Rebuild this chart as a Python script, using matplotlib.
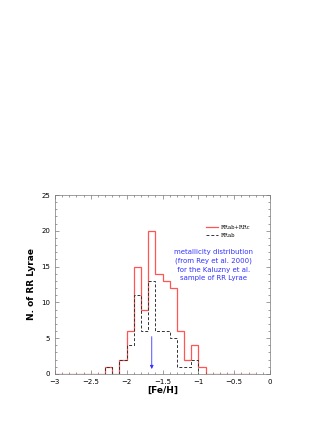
import numpy as np
import matplotlib
matplotlib.use("Agg")
import matplotlib.pyplot as plt
from matplotlib.ticker import MultipleLocator

bin_edges = np.round(np.arange(-3.0, -0.2 + 1e-9, 0.1), 2)
# counts per 0.1 dex bin from -3.0 to -0.2
all_counts = [0, 0, 0, 0, 0, 0, 0, 1, 0, 2, 6, 15, 9, 20, 14, 13, 12, 6, 2, 4, 1, 0, 0, 0, 0, 0, 0, 0]
rrab_counts = [0, 0, 0, 0, 0, 0, 0, 1, 0, 2, 4, 11, 6, 13, 6, 6, 5, 1, 1, 2, 0, 0, 0, 0, 0, 0, 0, 0]
mean_feh = -1.65
xtick_vals = [-3, -2.5, -2, -1.5, -1, -0.5, 0]
xtick_labels = ["\u22123", "\u22122.5", "\u22122", "\u22121.5", "\u22121", "\u22120.5", "0"]

fig = plt.figure(figsize=(3.27, 4.23), dpi=100)
ax = fig.add_axes([0.168, 0.116, 0.658, 0.423])

ax.stairs(all_counts, bin_edges, color="#ff5555", lw=0.9, label="RRab+RRc")
ax.stairs(rrab_counts, bin_edges, color="#333333", lw=0.7, ls=(0, (3, 2)), label="RRab")

ax.annotate("", xy=(mean_feh, 0.3), xytext=(mean_feh, 5.6),
            arrowprops=dict(arrowstyle="-|>", color="#3333ff", lw=0.6,
                            mutation_scale=5))

ax.set_xlim(-3, 0)
ax.set_ylim(0, 25)
ax.set_xticks(xtick_vals, xtick_labels)
ax.xaxis.set_minor_locator(MultipleLocator(0.1))
ax.yaxis.set_major_locator(MultipleLocator(5))
ax.yaxis.set_minor_locator(MultipleLocator(1))
ax.tick_params(which="both", direction="in", top=True, right=True,
               labelsize=5, width=0.4, colors="#555555", labelcolor="black")
ax.tick_params(which="major", length=3)
ax.tick_params(which="minor", length=1.5)
for s in ax.spines.values():
    s.set_linewidth(0.5)
    s.set_color("#777777")

ax.set_xlabel("[Fe/H]", fontsize=6.5, fontweight="bold", labelpad=1)
ax.set_ylabel("N. of RR Lyrae", fontsize=6.5, fontweight="bold", labelpad=4)

leg = ax.legend(loc="upper right", bbox_to_anchor=(0.93, 0.86), frameon=False,
                prop={"family": "DejaVu Serif", "size": 3.8}, handlelength=2.2,
                labelspacing=0.6, handletextpad=0.6)

ax.text(0.735, 0.70, "metallicity distribution\n(from Rey et al. 2000)\n for the Kaluzny et al.\nsample of RR Lyrae",
        transform=ax.transAxes, ha="center", va="top", color="#3333ff",
        fontsize=5, linespacing=1.55)

fig.savefig("out.png", dpi=100)
